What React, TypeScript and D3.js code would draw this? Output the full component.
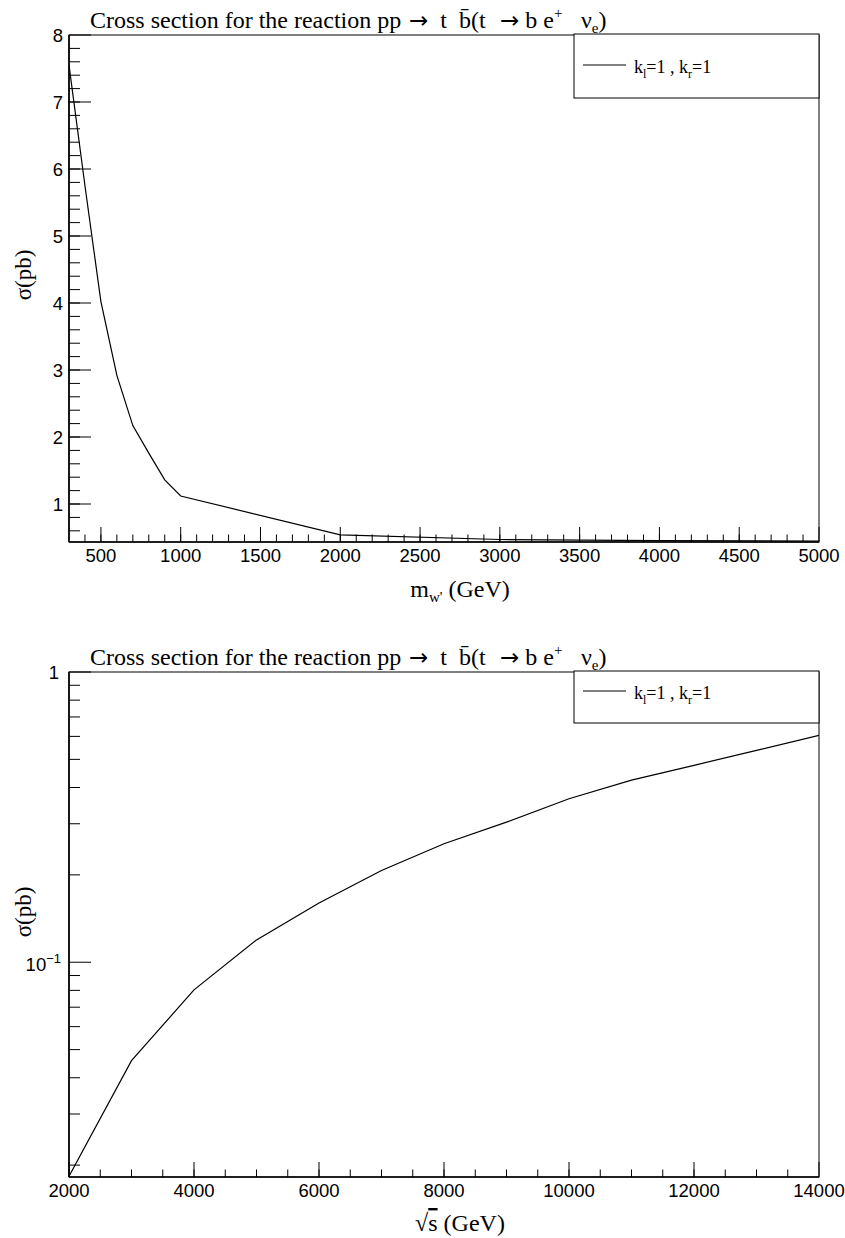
import { useEffect, useRef } from "react";
import * as d3 from "d3";

// top panel: sigma vs W' mass
const massPoints = [300, 400, 500, 600, 700, 800, 900, 1000, 2000, 3000, 4000, 5000];
const massSigma = [7.55, 5.75, 4.02, 2.92, 2.17, 1.76, 1.36, 1.12, 0.54, 0.47, 0.455, 0.445];
const massTicks = [500, 1000, 1500, 2000, 2500, 3000, 3500, 4000, 4500, 5000];
const sigmaTicks = [1, 2, 3, 4, 5, 6, 7, 8];

// bottom panel: sigma vs sqrt(s)
const energyPoints = [2000, 3000, 4000, 5000, 6000, 7000, 8000, 9000, 10000, 11000, 12000, 13000, 14000];
const energySigma = [0.0183, 0.0458, 0.0803, 0.1194, 0.160, 0.207, 0.256, 0.304, 0.366, 0.424, 0.477, 0.537, 0.605];
const energyTicks = [2000, 4000, 6000, 8000, 10000, 12000, 14000];

const SANS = "'Liberation Sans', Arial, Helvetica, sans-serif";
const SERIF = "'Liberation Serif', 'Times New Roman', serif";
const ARROW = "'DejaVu Sans', sans-serif";

const width = 845;
const height = 1238;
const left = 69;
const right = 819;

function drawPanel(svg: any, p: any) {
  const g = svg.append("g");
  const { x, y, top, bottom } = p;

  svg.append("clipPath").attr("id", p.id)
    .append("rect")
    .attr("x", left).attr("y", top)
    .attr("width", right - left).attr("height", bottom - top);

  // title, pieces placed like the TLatex layout
  const t = g.append("text")
    .attr("x", 90).attr("y", top - 7)
    .style("white-space", "pre")
    .attr("font-family", SERIF).attr("font-size", 24);
  t.append("tspan").text("Cross section for the reaction pp");
  t.append("tspan").attr("x", 409).attr("font-family", ARROW).attr("font-size", 23).text("\u2192");
  t.append("tspan").text("  t  ");
  t.append("tspan").text("b\u0304");
  t.append("tspan").text("(t");
  t.append("tspan").attr("x", 500).attr("font-family", ARROW).attr("font-size", 23).text("\u2192");
  t.append("tspan").text(" b e");
  t.append("tspan").attr("font-size", 15).attr("dy", -10).text("+");
  t.append("tspan").attr("x", 581).attr("dy", 10).text("\u03bd");
  t.append("tspan").attr("font-size", 15).attr("dy", 5).text("e");
  t.append("tspan").attr("dy", -5).text(")");

  // frame
  g.append("rect")
    .attr("x", left).attr("y", top)
    .attr("width", right - left).attr("height", bottom - top)
    .attr("fill", "none").attr("stroke", "#000").attr("stroke-width", 1);
  g.append("line").attr("x1", left).attr("x2", left).attr("y1", top).attr("y2", bottom)
    .attr("stroke", "#000").attr("stroke-width", 1.6);
  g.append("line").attr("x1", left).attr("x2", right).attr("y1", bottom).attr("y2", bottom)
    .attr("stroke", "#000").attr("stroke-width", 1.6);

  // y ticks
  g.append("g").selectAll("line")
    .data(p.yMinor)
    .join("line")
      .attr("x1", left).attr("x2", left + 11)
      .attr("y1", (d: number) => y(d)).attr("y2", (d: number) => y(d))
      .attr("stroke", "#000");
  g.append("g").selectAll("line")
    .data(p.yMajor)
    .join("line")
      .attr("x1", left).attr("x2", left + 22)
      .attr("y1", (d: number) => y(d)).attr("y2", (d: number) => y(d))
      .attr("stroke", "#000");

  // x ticks
  g.append("g").selectAll("line")
    .data(p.xMinor)
    .join("line")
      .attr("x1", (d: number) => x(d)).attr("x2", (d: number) => x(d))
      .attr("y1", bottom).attr("y2", bottom - 7.5)
      .attr("stroke", "#000");
  g.append("g").selectAll("line")
    .data(p.xMajor)
    .join("line")
      .attr("x1", (d: number) => x(d)).attr("x2", (d: number) => x(d))
      .attr("y1", bottom).attr("y2", bottom - 15)
      .attr("stroke", "#000");

  g.append("g")
    .attr("font-family", SANS).attr("font-size", 18.5)
    .attr("text-anchor", "middle")
    .selectAll("text")
    .data(p.xMajor)
    .join("text")
      .attr("x", (d: number) => x(d)).attr("y", bottom + 20)
      .text((d: number) => d);

  // curve
  g.append("path")
    .attr("clip-path", `url(#${p.id})`)
    .attr("fill", "none").attr("stroke", "#000").attr("stroke-width", 1.2)
    .attr("d", d3.line<number>()
      .x((d, i) => x(p.xs[i]))
      .y(d => y(d))(p.ys));

  // axis titles
  const yt = g.append("text")
    .attr("transform", `translate(31,${top + 240}) rotate(-90)`)
    .attr("text-anchor", "middle")
    .attr("font-family", SERIF).attr("font-size", 23);
  yt.append("tspan").text("\u03c3");
  yt.append("tspan").text("(pb)");

  p.xTitle(g.append("text")
    .attr("x", 460).attr("y", p.xTitleY)
    .attr("text-anchor", "middle")
    .attr("font-family", SERIF).attr("font-size", 24));

  // legend
  const lg = g.append("g");
  lg.append("rect")
    .attr("x", 574).attr("y", top - 1)
    .attr("width", right - 574).attr("height", p.legendH)
    .attr("fill", "#fff").attr("stroke", "#000").attr("stroke-width", 1);
  const ly = top - 1 + p.legendLine;
  lg.append("line")
    .attr("x1", 583).attr("x2", 626).attr("y1", ly).attr("y2", ly)
    .attr("stroke", "#000").attr("stroke-width", 1.2);
  const lt = lg.append("text")
    .attr("x", 634).attr("y", ly + 8)
    .attr("font-family", SERIF).attr("font-size", 18);
  lt.append("tspan").text("k");
  lt.append("tspan").attr("font-size", 12).attr("dy", 5).text("l");
  lt.append("tspan").attr("dy", -5).text("=1 , k");
  lt.append("tspan").attr("font-size", 12).attr("dy", 5).text("r");
  lt.append("tspan").attr("dy", -5).text("=1");

  return g;
}

export default function App() {
  const ref = useRef<SVGSVGElement>(null);

  useEffect(() => {
    const svg = d3.select(ref.current);
    svg.selectAll("*").remove();

    // ---- top panel
    const top1 = 35, bottom1 = 542;
    const x1 = d3.scaleLinear().domain([300, 5000]).range([left, right]);
    const y1 = d3.scaleLinear().domain([0.433, 8]).range([bottom1, top1]);
    const g1 = drawPanel(svg, {
      id: "clipTop", top: top1, bottom: bottom1, x: x1, y: y1,
      xs: massPoints, ys: massSigma,
      xMajor: massTicks,
      xMinor: d3.range(400, 5000, 100),
      yMajor: sigmaTicks,
      yMinor: d3.range(0.6, 8, 0.2),
      legendH: 64, legendLine: 31, xTitleY: 597,
      xTitle: (t: any) => {
        t.append("tspan").text("m");
        t.append("tspan").attr("font-size", 15).attr("dy", 5).text("w'");
        t.append("tspan").attr("dy", -5).text(" (GeV)");
      },
    });
    g1.append("g")
      .attr("font-family", SANS).attr("font-size", 18.5)
      .attr("text-anchor", "end")
      .selectAll("text")
      .data(sigmaTicks)
      .join("text")
        .attr("x", 63).attr("y", (d: number) => y1(d)).attr("dy", "0.36em")
        .text((d: number) => d);

    // ---- bottom panel
    const top2 = 672, bottom2 = 1177;
    const x2 = d3.scaleLinear().domain([2000, 14000]).range([left, right]);
    const y2 = d3.scaleLog().domain([0.0182, 1]).range([bottom2, top2]);
    const logMinor: number[] = [];
    for (const dec of [0.01, 0.1]) {
      for (let k = 2; k <= 9; k++) {
        const v = k * dec;
        if (v >= 0.0182 && v < 1) logMinor.push(v);
      }
    }
    const g2 = drawPanel(svg, {
      id: "clipBottom", top: top2, bottom: bottom2, x: x2, y: y2,
      xs: energyPoints, ys: energySigma,
      xMajor: energyTicks,
      xMinor: d3.range(2500, 14000, 500),
      yMajor: [0.1, 1],
      yMinor: logMinor,
      legendH: 52, legendLine: 20, xTitleY: 1231,
      xTitle: (t: any) => {
        t.append("tspan").text("\u221a");
        t.append("tspan").attr("text-decoration", "overline").text("s");
        t.append("tspan").text(" (GeV)");
      },
    });
    const yl = g2.append("g").attr("font-family", SANS).attr("font-size", 18.5).attr("text-anchor", "end");
    yl.append("text").attr("x", 59).attr("y", y2(1)).attr("dy", "0.36em").text("1");
    const tenth = yl.append("text").attr("x", 61).attr("y", y2(0.1) + 9);
    tenth.append("tspan").text("10");
    tenth.append("tspan").attr("font-size", 13).attr("dy", -8).text("\u22121");
  }, []);

  return (
    <svg
      ref={ref}
      width={width}
      height={height}
      viewBox={`0 0 ${width} ${height}`}
      style={{ position: "absolute", left: 0, top: 0, background: "#fff" }}
    />
  );
}
